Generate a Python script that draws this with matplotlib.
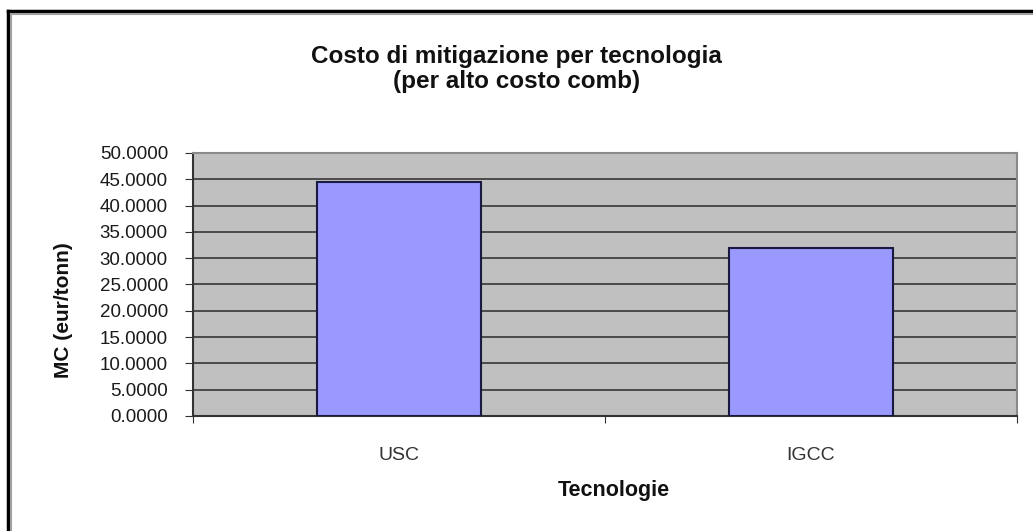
import matplotlib.pyplot as plt
from matplotlib.lines import Line2D

plt.rcParams['font.family'] = ['Liberation Sans', 'DejaVu Sans']

# dati
tecnologie = ['USC', 'IGCC']
costo_mitigazione = [44.5, 31.9]
tick_valori = [0, 5, 10, 15, 20, 25, 30, 35, 40, 45, 50]

fig = plt.figure(figsize=(10.33, 5.31), dpi=100)
ax = fig.add_axes([0.1868, 0.2166, 0.7977, 0.4953])

ax.set_facecolor('#c0c0c0')
ax.bar(range(len(tecnologie)), costo_mitigazione, width=0.4,
       color='#9999ff', edgecolor='#1a1a40', linewidth=1.5, zorder=3)

ax.set_xlim(-0.5, len(tecnologie) - 0.5)
ax.set_ylim(0, 50)
ax.set_yticks(tick_valori)
ax.set_yticklabels([f'{v:.4f}' for v in tick_valori], fontsize=13.5, color='#1a1a1a')
ax.yaxis.grid(True, color='#4a4a4a', linewidth=1.4, zorder=1)
ax.set_axisbelow(True)

# tick di categoria ai bordi, etichette al centro
ax.set_xticks([-0.5, 0.5, 1.5])
ax.set_xticklabels([])
ax.set_xticks(range(len(tecnologie)), minor=True)
ax.set_xticklabels(tecnologie, minor=True, fontsize=14, color='#333333')
ax.tick_params(axis='x', which='minor', length=0, pad=22)
ax.tick_params(axis='x', which='major', length=5, direction='out', color='#333333')
ax.tick_params(axis='y', length=6, direction='out', color='#333333', pad=12)

for s in ['left', 'bottom']:
    ax.spines[s].set_color('#333333')
    ax.spines[s].set_linewidth(1.5)
for s in ['top', 'right']:
    ax.spines[s].set_color('#8a8a8a')
    ax.spines[s].set_linewidth(1.5)

ax.set_ylabel('MC (eur/tonn)', fontsize=15, fontweight='bold', color='#111111')
ax.yaxis.set_label_coords(-0.145, 0.403)
ax.set_xlabel('Tecnologie', fontsize=15.5, fontweight='bold', color='#111111')
ax.xaxis.set_label_coords(0.511, -0.245)

fig.text(0.5, 0.870, 'Costo di mitigazione per tecnologia\n(per alto costo comb)',
         ha='center', va='center', fontsize=17.5, fontweight='bold',
         color='#111111', linespacing=1.1)

# cornice esterna
fig.add_artist(Line2D([8 / 1033, 8 / 1033], [0, 1 - 11 / 531], color='black', lw=2.5))
fig.add_artist(Line2D([8 / 1033, 1], [1 - 11 / 531, 1 - 11 / 531], color='black', lw=2.5))
fig.add_artist(Line2D([11 / 1033, 11 / 1033], [0, 1 - 14 / 531], color='#a0a0a0', lw=1.5))
fig.add_artist(Line2D([11 / 1033, 1], [1 - 14 / 531, 1 - 14 / 531], color='#a0a0a0', lw=1.5))

fig.savefig('out.png', dpi=100)
